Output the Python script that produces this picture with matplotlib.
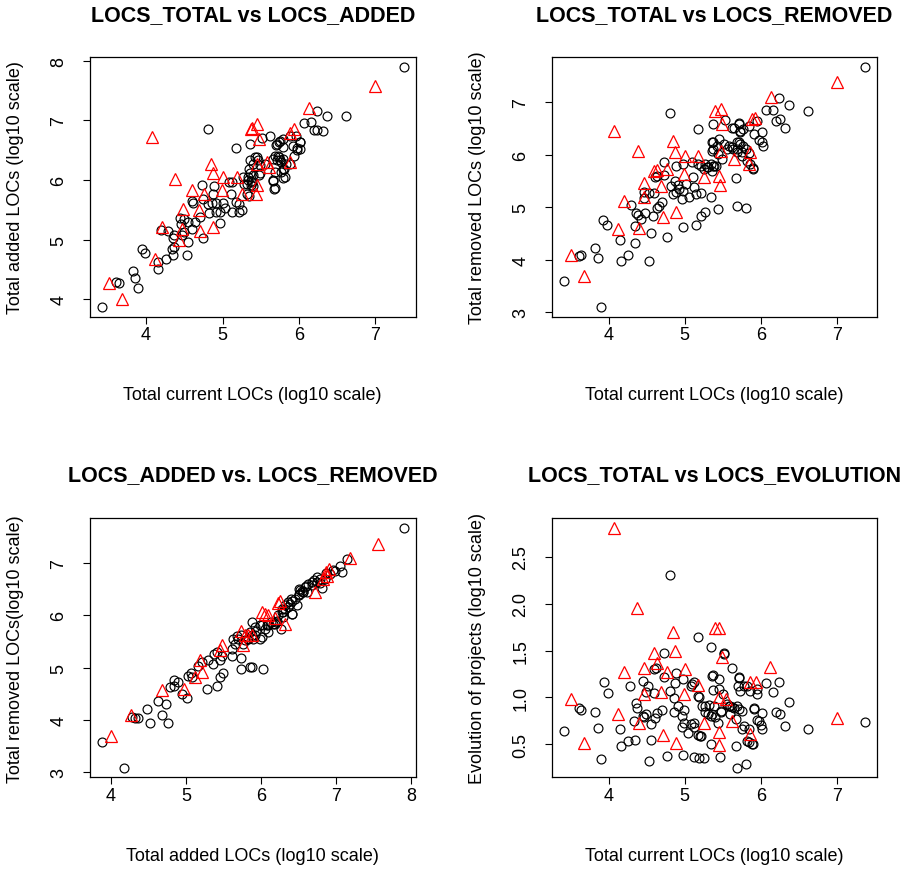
import matplotlib
matplotlib.use("Agg")
import matplotlib.pyplot as plt

plt.rcParams['font.family'] = ['Liberation Sans', 'DejaVu Sans']

# ---------------- data (log10 values) ----------------
# Panel 1: LOCS_TOTAL vs LOCS_ADDED
total_added_black = [
    (3.42, 3.87), (3.61, 4.29), (3.64, 4.27), (3.83, 4.48), (3.86, 4.35), (3.90, 4.19), (3.94, 4.85),
    (3.99, 4.78), (4.16, 4.51), (4.15, 4.63), (4.26, 4.68), (4.35, 4.74), (4.34, 4.85), (4.36, 4.88),
    (4.53, 4.75), (4.19, 5.17), (4.29, 5.14), (4.35, 5.03), (4.37, 5.07), (4.47, 5.07), (4.49, 5.13),
    (4.55, 4.96), (4.44, 5.37), (4.50, 5.34), (4.46, 5.27), (4.55, 5.30), (4.60, 5.18), (4.64, 5.30),
    (4.60, 5.64), (4.62, 5.62), (4.71, 5.38), (4.75, 5.02), (4.81, 6.86), (4.73, 5.91), (4.89, 5.90),
    (4.87, 5.76), (4.75, 5.68), (4.81, 5.60), (4.86, 5.62), (4.92, 5.62), (4.82, 5.45), (4.91, 5.47),
    (4.97, 5.46), (4.97, 5.28), (5.00, 5.61), (5.03, 5.53), (5.11, 5.76), (5.09, 5.97), (5.12, 5.97),
    (5.13, 5.46), (5.17, 5.63), (5.21, 5.60), (5.22, 5.46), (5.26, 5.49), (5.17, 6.53), (5.36, 6.61),
    (5.36, 6.33), (5.35, 6.19), (5.34, 6.05), (5.32, 5.94), (5.28, 5.94), (5.35, 5.74), (5.40, 5.90),
    (7.37, 7.90), (6.61, 7.07), (6.37, 7.07), (6.24, 7.15), (6.07, 6.96), (6.16, 6.98), (6.20, 6.83),
    (6.24, 6.83), (6.31, 6.82), (6.01, 6.64), (5.96, 6.74), (5.88, 6.74), (5.92, 6.57), (5.97, 6.53),
    (6.01, 6.52), (5.93, 6.40), (5.70, 6.59), (5.74, 6.64), (5.79, 6.68), (5.62, 6.73), (5.52, 6.70),
    (5.69, 6.41), (5.66, 6.36), (5.74, 6.38), (5.77, 6.30), (5.83, 6.27), (5.88, 6.27), (5.81, 6.19),
    (5.77, 6.13), (5.45, 6.39), (5.55, 6.27), (5.48, 6.09), (5.37, 5.99), (5.37, 5.91), (5.66, 5.99),
    (5.79, 6.03), (5.67, 5.85), (5.71, 6.61), (5.75, 6.66), (5.79, 6.55), (5.97, 6.50), (6.02, 6.64),
    (5.73, 6.41), (5.71, 6.33), (5.75, 6.33), (5.79, 6.36), (5.42, 6.39), (5.47, 6.33), (5.49, 6.25),
    (5.40, 6.27), (5.36, 6.11), (5.40, 6.08), (5.34, 6.00), (5.38, 5.97), (5.27, 6.05), (5.69, 6.14),
    (5.79, 6.19), (5.66, 6.00), (5.69, 5.86), (5.82, 6.05), (5.49, 6.11), (5.32, 5.77),
]
total_added_red = [
    (3.52, 4.27), (3.68, 4.01), (4.08, 6.72), (4.11, 4.68), (4.21, 5.21), (4.38, 6.02), (4.48, 5.52),
    (4.47, 5.18), (4.43, 4.99), (4.60, 5.83), (4.69, 5.49), (4.71, 5.14), (4.76, 5.77), (4.85, 6.26),
    (4.87, 6.11), (4.88, 5.22), (5.00, 6.05), (4.99, 5.83), (5.19, 6.05), (5.25, 5.77), (5.37, 6.86),
    (7.00, 7.58), (6.13, 7.21), (5.45, 6.93), (5.39, 6.87), (5.93, 6.86), (5.88, 6.79), (5.48, 6.68),
    (5.45, 6.27), (5.61, 6.22), (5.88, 6.30), (5.45, 5.91), (5.44, 5.77), (5.58, 6.30),
]

# Panel 2: LOCS_TOTAL vs LOCS_REMOVED
total_removed_black = [
    (3.41, 3.59), (3.90, 3.10), (3.61, 4.07), (3.64, 4.10), (3.82, 4.22), (3.86, 4.04), (3.93, 4.76),
    (3.98, 4.67), (4.15, 4.37), (4.16, 3.97), (4.26, 4.10), (4.35, 4.32), (4.53, 3.97), (4.55, 4.51),
    (4.76, 4.44), (4.29, 5.04), (4.34, 4.65), (4.36, 4.90), (4.39, 4.86), (4.42, 4.78), (4.48, 4.89),
    (4.47, 5.17), (4.53, 5.27), (4.47, 5.29), (4.58, 4.83), (4.60, 5.27), (4.63, 4.98), (4.66, 5.03),
    (4.70, 5.10), (4.61, 5.57), (4.64, 5.59), (4.73, 5.87), (4.73, 5.62), (4.81, 6.79), (4.82, 5.41),
    (4.84, 5.25), (4.88, 5.79), (4.87, 5.51), (4.91, 5.43), (4.93, 5.35), (4.88, 5.29), (4.97, 5.83),
    (4.98, 5.32), (4.96, 5.16), (5.05, 5.19), (5.02, 5.44), (5.10, 5.87), (5.11, 5.57), (5.12, 5.38),
    (5.15, 5.25), (5.21, 5.27), (4.98, 4.62), (5.15, 4.67), (5.21, 4.84), (5.26, 4.92), (5.17, 6.50),
    (5.37, 6.59), (5.37, 6.25), (5.37, 6.11), (5.34, 5.19), (5.44, 4.97), (5.30, 5.76), (5.37, 5.79),
    (5.26, 5.83), (5.17, 5.83), (5.43, 6.02),
    (7.37, 7.68), (6.24, 7.08), (6.37, 6.95), (6.62, 6.83), (6.07, 6.86), (6.16, 6.86), (6.20, 6.65),
    (6.25, 6.68), (6.31, 6.52), (5.95, 6.65), (5.53, 6.67), (5.45, 6.31), (5.62, 6.52), (5.71, 6.61),
    (5.73, 6.46), (5.84, 6.54), (6.02, 6.43), (5.91, 6.40), (5.97, 6.29), (6.01, 6.25), (6.03, 6.16),
    (5.58, 6.16), (5.63, 6.12), (5.71, 6.24), (5.76, 6.17), (5.80, 6.11), (5.68, 6.05), (5.75, 5.98),
    (5.84, 6.03), (5.82, 5.89), (5.89, 5.74), (5.49, 5.92), (5.41, 5.79), (5.67, 5.56),
    (5.68, 5.02), (5.80, 4.98),
    (5.64, 6.52), (5.71, 6.59), (5.73, 6.43), (5.77, 6.49), (5.36, 6.24), (5.42, 6.17), (5.36, 6.08),
    (5.51, 6.21), (5.56, 6.11), (5.62, 6.14), (5.69, 6.24), (5.73, 6.21), (5.69, 6.11), (5.75, 6.05),
    (5.21, 5.79), (5.25, 5.73), (5.29, 5.76), (5.34, 5.82), (5.38, 5.79), (5.36, 5.70),
    (5.86, 5.82), (5.90, 5.73),
]
total_removed_red = [
    (3.51, 4.10), (3.67, 3.70), (4.07, 6.46), (4.12, 4.59), (4.20, 5.13), (4.38, 6.08), (4.40, 4.61),
    (4.47, 5.46), (4.47, 5.19), (4.60, 5.70), (4.64, 5.72), (4.69, 5.41), (4.71, 4.82), (4.77, 5.73),
    (4.85, 6.27), (4.87, 6.05), (4.88, 4.92), (4.99, 5.63), (5.00, 5.97), (5.17, 5.98), (5.25, 5.57),
    (5.40, 6.84), (7.00, 7.38), (6.13, 7.11), (5.47, 6.87), (5.49, 6.59), (5.88, 6.68), (5.92, 6.71),
    (5.47, 6.08), (5.64, 5.92), (5.86, 6.05), (5.84, 5.82), (5.45, 5.60), (5.46, 5.42),
]

# Panel 3: LOCS_ADDED vs LOCS_REMOVED
added_removed_black = [
    (3.88, 3.58), (4.18, 3.09), (4.28, 4.06), (4.32, 4.04), (4.36, 4.04), (4.48, 4.22), (4.52, 3.95),
    (4.63, 4.36), (4.68, 4.09), (4.74, 4.31), (4.76, 3.95), (4.79, 4.63), (4.84, 4.76), (4.90, 4.73),
    (4.84, 4.65), (4.95, 4.50), (5.02, 4.42), (5.03, 4.85), (5.07, 4.89), (5.08, 4.82), (5.28, 4.60),
    (5.16, 5.04), (5.21, 5.11), (5.30, 5.14), (5.36, 5.08), (5.38, 5.27), (5.41, 5.30), (5.42, 4.66),
    (5.45, 4.82), (5.50, 4.90), (5.45, 5.14), (5.48, 5.23), (5.61, 5.23), (5.61, 5.36), (5.65, 5.46),
    (5.63, 5.55), (5.68, 5.60), (5.74, 5.18), (5.73, 4.97), (5.86, 5.01), (5.76, 5.46), (5.83, 5.55),
    (5.88, 5.87),
    (7.90, 7.67), (7.08, 6.82), (7.14, 7.08), (7.05, 6.95), (6.96, 6.87), (6.87, 6.81), (6.81, 6.52),
    (6.79, 6.62), (6.74, 6.73), (6.68, 6.64), (6.70, 6.68), (6.60, 6.56), (6.56, 6.45), (6.52, 6.49),
    (6.50, 6.50), (6.40, 6.31), (6.36, 6.25), (6.32, 6.19), (6.28, 6.12), (6.30, 6.06), (6.41, 6.03),
    (6.27, 5.73), (6.20, 5.87), (6.16, 5.84), (6.08, 5.81), (6.01, 5.81), (5.99, 5.55), (5.88, 5.63),
    (5.92, 5.77), (5.88, 5.01), (6.03, 4.98),
    (6.99, 6.85), (6.92, 6.79), (6.85, 6.70), (6.79, 6.70), (6.74, 6.63), (6.68, 6.57), (6.63, 6.60),
    (6.59, 6.54), (6.54, 6.47), (6.56, 6.44), (6.61, 6.44), (6.50, 6.38), (6.45, 6.31), (6.41, 6.28),
    (6.39, 6.22), (6.36, 6.16), (6.32, 6.12), (6.28, 6.06), (6.23, 6.00), (6.21, 5.90), (6.14, 5.87),
    (6.10, 5.81), (6.05, 5.74), (5.99, 5.81), (5.94, 5.71), (5.92, 5.62), (5.90, 5.55), (5.85, 5.68),
    (5.83, 5.55), (5.79, 5.52), (5.74, 5.62), (5.70, 5.55), (6.01, 5.58), (6.10, 5.68), (6.19, 5.84),
    (6.30, 5.97), (6.41, 6.03), (6.48, 6.19), (6.50, 6.41),
]
added_removed_red = [
    (4.00, 3.69), (4.27, 4.09), (4.68, 4.57), (4.97, 4.60), (5.12, 4.82), (5.19, 5.14), (5.21, 4.92),
    (5.48, 5.43), (5.46, 5.33), (5.74, 5.70), (5.76, 5.43), (5.83, 5.63), (7.56, 7.37), (7.18, 7.09),
    (6.87, 6.83), (6.88, 6.76), (6.83, 6.70), (6.72, 6.44), (6.23, 6.24), (6.01, 6.06), (6.05, 6.03),
    (6.10, 6.00), (6.32, 5.84), (5.88, 5.63), (6.19, 5.95), (6.90, 6.89), (6.25, 6.28), (5.79, 5.62),
]

# Panel 4: LOCS_TOTAL vs LOCS_EVOLUTION
total_evolution_black = [
    (3.41, 0.645), (3.61, 0.89), (3.64, 0.87), (3.82, 0.84), (3.86, 0.67), (3.90, 0.34), (3.94, 1.16),
    (3.99, 1.05), (4.15, 0.66), (4.16, 0.48), (4.25, 0.53), (4.35, 0.55), (4.28, 1.12), (4.45, 1.18),
    (4.49, 1.06), (4.52, 1.12), (4.36, 0.94), (4.37, 0.89), (4.33, 0.75), (4.45, 0.80), (4.49, 0.82),
    (4.47, 0.79), (4.56, 0.72), (4.55, 0.55), (4.53, 0.32), (4.60, 1.30), (4.62, 1.31), (4.73, 1.47),
    (4.73, 1.22), (4.59, 1.05), (4.61, 0.78), (4.64, 0.83), (4.70, 0.87), (4.81, 2.31), (4.80, 1.07),
    (4.86, 0.99), (4.86, 0.84), (4.91, 0.91), (4.88, 1.26), (4.87, 1.15), (4.97, 1.20), (4.96, 0.80),
    (4.99, 0.73), (4.96, 0.68), (5.04, 0.62), (4.99, 0.87), (4.77, 0.37), (4.98, 0.39), (5.08, 1.12),
    (5.10, 1.14), (5.18, 1.01), (5.12, 0.73), (5.17, 0.60), (5.20, 0.59), (5.12, 0.36), (5.19, 0.35),
    (5.25, 0.35), (5.17, 1.65), (5.35, 1.54), (5.37, 1.24), (5.37, 1.08), (5.34, 0.50), (5.26, 0.91),
    (5.32, 0.92), (5.38, 0.91), (5.30, 0.82), (5.34, 0.80), (5.40, 0.79), (5.43, 0.73),
    (7.37, 0.74), (6.62, 0.66), (6.37, 0.95), (6.24, 1.17), (6.16, 1.06), (6.07, 1.15), (6.31, 0.69),
    (6.20, 0.85), (6.25, 0.82), (6.02, 0.83), (6.00, 0.71), (6.02, 0.66), (5.95, 0.76), (5.91, 0.88),
    (5.84, 0.66), (5.89, 0.50), (5.82, 0.53), (5.95, 1.09), (5.86, 1.07), (5.82, 1.12), (5.73, 1.07),
    (5.70, 1.12), (5.71, 1.22), (5.62, 1.31), (5.52, 1.47), (5.45, 1.20), (5.45, 1.09), (5.50, 1.04),
    (5.47, 0.84), (5.58, 0.91), (5.62, 0.90), (5.65, 0.89), (5.71, 0.88), (5.75, 0.86), (5.67, 0.48),
    (5.46, 0.36), (5.68, 0.25), (5.80, 0.29),
    (5.51, 1.46), (5.36, 1.23), (5.71, 1.21), (5.78, 1.12), (5.95, 1.04), (5.12, 1.16), (5.17, 1.02),
    (5.23, 0.91), (5.27, 0.84), (5.36, 0.82), (5.47, 0.86), (5.56, 0.93), (5.60, 0.91), (5.69, 0.91),
    (5.91, 0.89), (5.97, 0.75), (5.60, 0.82), (5.67, 0.77), (5.78, 0.70), (5.75, 0.66), (5.08, 0.72),
    (5.12, 0.68), (5.21, 0.59), (5.84, 0.52), (5.88, 0.50),
]
total_evolution_red = [
    (4.07, 2.81), (3.51, 0.98), (3.67, 0.51), (4.12, 0.82), (4.20, 1.27), (4.37, 1.96), (4.40, 0.73),
    (4.47, 1.31), (4.47, 1.04), (4.59, 1.47), (4.64, 1.37), (4.69, 1.06), (4.71, 0.60), (4.77, 1.27),
    (4.85, 1.70), (4.87, 1.50), (4.88, 0.51), (4.99, 1.04), (5.00, 1.30), (5.17, 1.13), (5.25, 0.73),
    (5.39, 1.74), (5.45, 1.74), (7.00, 0.78), (6.12, 1.32), (5.86, 1.16), (5.93, 1.16), (5.49, 1.43),
    (5.45, 1.00), (5.54, 0.98), (5.45, 0.63), (5.45, 0.49), (5.62, 0.75), (5.86, 0.61),
]

titles = ["LOCS_TOTAL vs LOCS_ADDED", "LOCS_TOTAL vs LOCS_REMOVED",
          "LOCS_ADDED vs. LOCS_REMOVED", "LOCS_TOTAL vs LOCS_EVOLUTION"]
xlabels = ["Total current LOCs (log10 scale)", "Total current LOCs (log10 scale)",
           "Total added LOCs (log10 scale)", "Total current LOCs (log10 scale)"]
ylabels = ["Total added LOCs (log10 scale)", "Total removed LOCs (log10 scale)",
           "Total removed LOCs(log10 scale)", "Evolution of projects (log10 scale)"]
xticks = [[4, 5, 6, 7], [4, 5, 6, 7], [4, 5, 6, 7, 8], [4, 5, 6, 7]]
yticks = [[4, 5, 6, 7, 8], [3, 4, 5, 6, 7], [3, 4, 5, 6, 7], [0.5, 1.0, 1.5, 2.0, 2.5]]
yticklabels = [["4", "5", "6", "7", "8"], ["3", "4", "5", "6", "7"],
               ["3", "4", "5", "6", "7"], ["0.5", "1.0", "1.5", "2.0", "2.5"]]
series = [(total_added_black, total_added_red), (total_removed_black, total_removed_red),
          (added_removed_black, added_removed_red), (total_evolution_black, total_evolution_red)]

# ---------------- layout (pixels) ----------------
W, H = 910, 870
fig = plt.figure(figsize=(W / 100, H / 100), dpi=100)
fig.patch.set_facecolor("white")

boxes = [(89.7, 58.0, 415.7, 317.7), (551.7, 58.0, 877.3, 317.7),
         (89.7, 519.3, 415.7, 778.3), (551.7, 519.3, 877.3, 778.3)]
title_y = [16, 16, 476, 476]
xlab_y = [395, 395, 857, 857]
ylab_x = [16, 478, 16, 478]


def rlim(vals):
    lo, hi = min(vals), max(vals)
    d = (hi - lo) * 0.04
    return lo - d, hi + d


for i in range(4):
    l, t, r, b = boxes[i]
    ax = fig.add_axes([l / W, 1 - b / H, (r - l) / W, (b - t) / H])
    blk, red = series[i]
    bx = [p[0] for p in blk]
    by = [p[1] for p in blk]
    rx = [p[0] for p in red]
    ry = [p[1] for p in red]
    ax.plot(bx, by, ls="none", marker="o", mfc="none", mec="black", ms=6.4, mew=0.85)
    ax.plot(rx, ry, ls="none", marker="^", mfc="none", mec="red", ms=8.2, mew=0.9)
    ax.set_xlim(*rlim(bx + rx))
    ax.set_ylim(*rlim(by + ry))
    ax.set_xticks(xticks[i])
    ax.set_yticks(yticks[i])
    ax.set_yticklabels(yticklabels[i], rotation=90, va="center")
    ax.tick_params(axis="both", direction="out", length=5, width=0.8, labelsize=13, color="black")
    ax.tick_params(axis="x", pad=2)
    ax.tick_params(axis="y", pad=11)
    for s in ax.spines.values():
        s.set_linewidth(0.9)
    cx = (l + r) / 2
    cy = (t + b) / 2
    fig.text(cx / W, 1 - title_y[i] / H, titles[i], ha="center", va="center",
             fontsize=15.5, fontweight="bold")
    fig.text(cx / W, 1 - xlab_y[i] / H, xlabels[i], ha="center", va="center", fontsize=13)
    fig.text(ylab_x[i] / W, 1 - cy / H, ylabels[i], ha="center", va="center",
             fontsize=13, rotation=90)

fig.savefig("out.png", dpi=100, facecolor="white")
